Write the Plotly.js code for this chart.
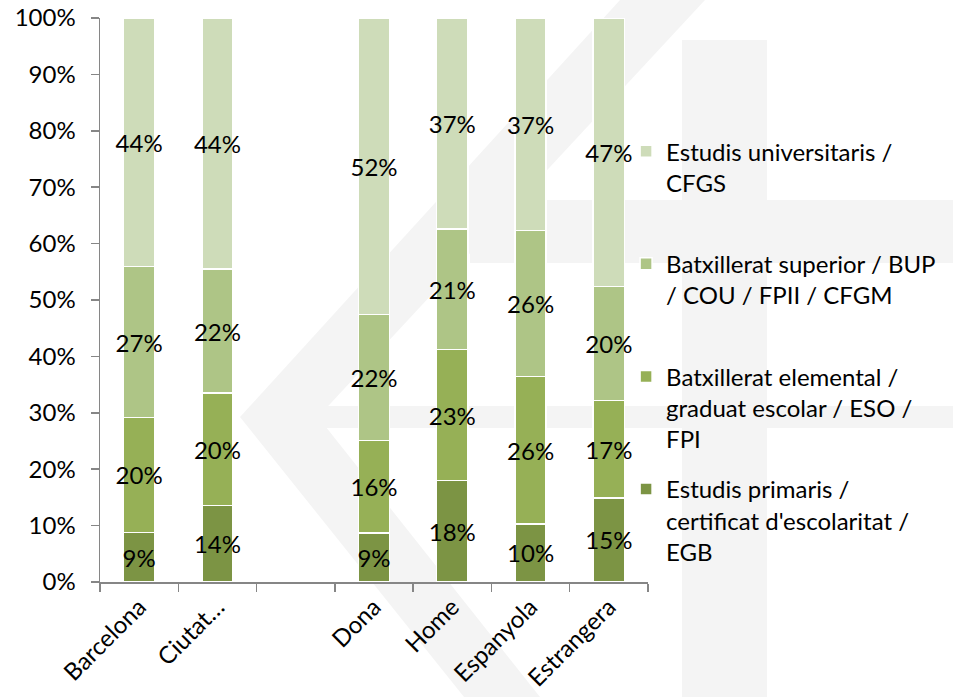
<!DOCTYPE html>
<html>
<head>
<meta charset="utf-8">
<script src="https://cdn.plot.ly/plotly-3.0.1.min.js"></script>
<style>html,body{margin:0;padding:0;background:#fff;}#chart{width:953px;height:697px;}</style>
</head>
<body>
<div id="chart"></div>
<script>
const categories = ["Barcelona", "Ciutat\u2026", " ", "Dona", "Home", "Espanyola", "Estrangera"];
const seriesNames = [
  "Estudis primaris /<br>certificat d'escolaritat /<br>EGB",
  "Batxillerat elemental /<br>graduat escolar / ESO /<br>FPI",
  "Batxillerat superior / BUP<br>/ COU / FPII / CFGM<br>\u00a0",
  "Estudis universitaris /<br>CFGS<br>\u00a0"
];
const primaris      = [8.8, 13.6, null, 8.7, 18.0, 10.3, 14.9];
const elemental     = [20.4, 19.9, null, 16.4, 23.2, 26.1, 17.3];
const superior      = [26.7, 22.0, null, 22.3, 21.4, 25.9, 20.2];
const universitaris = [44.1, 44.5, null, 52.6, 37.4, 37.7, 47.6];
const primarisLbl      = ["9%", "14%", "", "9%", "18%", "10%", "15%"];
const elementalLbl     = ["20%", "20%", "", "16%", "23%", "26%", "17%"];
const superiorLbl      = ["27%", "22%", "", "22%", "21%", "26%", "20%"];
const universitarisLbl = ["44%", "44%", "", "52%", "37%", "37%", "47%"];
const yTickVals = [0, 10, 20, 30, 40, 50, 60, 70, 80, 90, 100];
const yTickText = ["0%", "10%", "20%", "30%", "40%", "50%", "60%", "70%", "80%", "90%", "100%"];

const colors = ["#7C9444", "#96B056", "#AEC586", "#CEDCB9"];
const FONT = "Lato, 'Open Sans', sans-serif";
const FS = 24;
const values = [primaris, elemental, superior, universitaris];
const labels = [primarisLbl, elementalLbl, superiorLbl, universitarisLbl];

const traces = values.map((v, i) => ({
  type: "bar",
  x: categories,
  y: v,
  name: seriesNames[i],
  legendgroup: "g" + i,
  legendrank: 10 - i,
  text: labels[i],
  textposition: "inside",
  insidetextanchor: "middle",
  constraintext: "none",
  textangle: 0,
  textfont: {family: FONT, size: FS, color: "#000"},
  marker: {color: colors[i], line: {color: "#ffffff", width: 1.5}},
  width: 0.4,
  hoverinfo: "none"
}));

// faint background watermark (decorative), given in page pixels
const ML = 100, MT = 18, PW = 548, PH = 564;
function P(px, py) { return ((px - ML) / PW).toFixed(4) + "," + ((MT + PH - py) / PH).toFixed(4); }
function poly(pts) { return "M" + pts.map(p => P(p[0], p[1])).join("L") + "Z"; }
const wm = "#f4f4f4";
const wmPolys = [
  [[240, 417], [620, 0], [705, 0], [318, 417]],
  [[240, 417], [318, 417], [540, 697], [464, 697]],
  [[295, 406], [953, 406], [953, 428], [295, 428]],
  [[470, 200], [953, 200], [953, 263], [470, 263]],
  [[682, 40], [767, 40], [767, 697], [682, 697]]
];
const shapes = wmPolys.map(pts => ({
  type: "path", xref: "paper", yref: "paper", layer: "below",
  path: poly(pts), fillcolor: wm, line: {width: 0}
}));

const layout = {
  width: 953, height: 697,
  barmode: "stack",
  paper_bgcolor: "#ffffff",
  plot_bgcolor: "rgba(0,0,0,0)",
  margin: {l: ML, r: 953 - ML - PW, t: MT, b: 697 - MT - PH},
  font: {family: FONT, size: FS, color: "#000"},
  shapes: shapes,
  showlegend: true,
  legend: {
    x: 0.96, xanchor: "left", y: 0.803, yanchor: "top",
    traceorder: "grouped",
    valign: "top",
    font: {family: FONT, size: FS, color: "#000"},
    bgcolor: "rgba(0,0,0,0)",
    tracegroupgap: 16
  },
  xaxis: {
    type: "category",
    categoryorder: "array",
    categoryarray: categories,
    range: [-0.5, 6.5],
    showline: true, linecolor: "#868686", linewidth: 1.5,
    ticks: "outside", tickson: "boundaries", ticklen: 8, tickcolor: "#868686", tickwidth: 1.5,
    tickangle: -45,
    tickfont: {family: FONT, size: FS, color: "#000"},
    showgrid: false, zeroline: false
  },
  yaxis: {
    range: [0, 100],
    tickvals: yTickVals, ticktext: yTickText,
    showline: true, linecolor: "#868686", linewidth: 1.5,
    ticks: "outside", ticklen: 8, tickcolor: "#868686", tickwidth: 1.5,
    ticklabelstandoff: 10,
    tickfont: {family: FONT, size: FS, color: "#000"},
    showgrid: false, zeroline: false
  }
};

Plotly.newPlot("chart", traces, layout, {displayModeBar: false, staticPlot: true});
</script>
</body>
</html>
